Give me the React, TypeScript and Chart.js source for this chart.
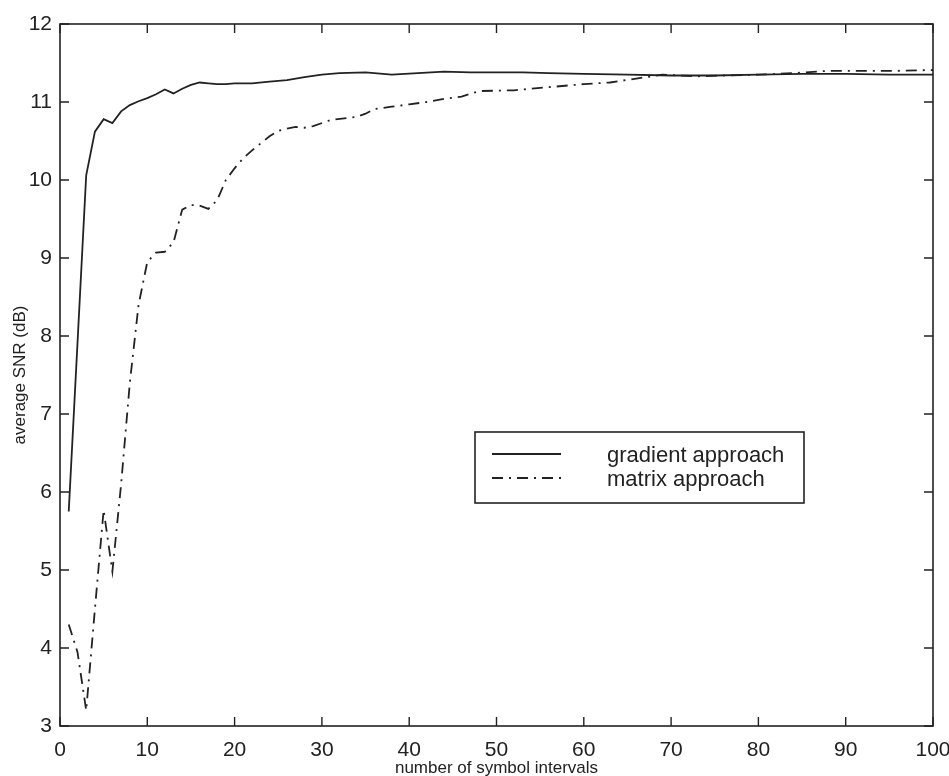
import React, { useEffect, useRef } from "react";
import { Chart, registerables } from "chart.js";

Chart.register(...registerables);

// ---- data ----
const xTickValues = [0, 10, 20, 30, 40, 50, 60, 70, 80, 90, 100];
const yTickValues = [3, 4, 5, 6, 7, 8, 9, 10, 11, 12];

const seriesLabels = ["gradient approach", "matrix approach"];
const xTitle = "number of symbol intervals";
const yTitle = "average SNR (dB)";

const gradientX = [1, 2, 3, 4, 5, 6, 7, 8, 9, 10, 11, 12, 13, 14, 15, 16, 17, 18, 19, 20, 22, 24, 26, 28, 30, 32, 35, 38, 41, 44, 47, 50, 53, 56, 60, 65, 70, 75, 80, 85, 90, 95, 100];
const gradientY = [5.75, 7.9, 10.06, 10.62, 10.78, 10.73, 10.88, 10.96, 11.01, 11.05, 11.1, 11.16, 11.11, 11.17, 11.22, 11.25, 11.24, 11.23, 11.23, 11.24, 11.24, 11.26, 11.28, 11.32, 11.35, 11.37, 11.38, 11.35, 11.37, 11.39, 11.38, 11.38, 11.38, 11.37, 11.36, 11.35, 11.34, 11.34, 11.35, 11.36, 11.36, 11.35, 11.35];

const matrixX = [1, 2, 3, 4, 5, 6, 7, 8, 9, 10, 11, 12, 13, 14, 15, 16, 17, 18, 19, 20, 21, 22, 23, 24, 25, 26, 27, 28, 29, 31, 34, 35, 36, 38, 40, 42, 44, 46, 48, 52, 56, 60, 63, 66, 69, 71, 73, 76, 80, 84, 88, 92, 96, 100];
const matrixY = [4.3, 3.95, 3.2, 4.5, 5.77, 4.98, 6.1, 7.4, 8.4, 8.95, 9.07, 9.08, 9.2, 9.62, 9.68, 9.67, 9.63, 9.74, 10.0, 10.15, 10.28, 10.38, 10.47, 10.56, 10.63, 10.66, 10.68, 10.67, 10.69, 10.77, 10.81, 10.85, 10.91, 10.94, 10.97, 11.0, 11.04, 11.07, 11.14, 11.15, 11.19, 11.23, 11.25, 11.3, 11.35, 11.34, 11.33, 11.34, 11.35, 11.37, 11.4, 11.4, 11.4, 11.41];

// ---- styling ----
const INK = "#222222";
const FONT = "'Liberation Sans', Arial, Helvetica, sans-serif";
const TICK_LEN = 9;
const LEGEND_BOX = { left: 475, top: 432, right: 804, bottom: 503 };

const frameAndTicks = {
  id: "frameAndTicks",
  afterDatasetsDraw(chart: any) {
    const { ctx, chartArea } = chart;
    const { left, right, top, bottom } = chartArea;
    const xs = chart.scales.x;
    const ys = chart.scales.y;
    ctx.save();
    ctx.strokeStyle = INK;
    ctx.lineWidth = 1.6;
    ctx.strokeRect(left, top, right - left, bottom - top);
    ctx.lineWidth = 1.4;
    ctx.beginPath();
    xs.ticks.forEach((t: any) => {
      const px = xs.getPixelForValue(t.value);
      ctx.moveTo(px, bottom);
      ctx.lineTo(px, bottom - TICK_LEN);
      ctx.moveTo(px, top);
      ctx.lineTo(px, top + TICK_LEN);
    });
    ys.ticks.forEach((t: any) => {
      const py = ys.getPixelForValue(t.value);
      ctx.moveTo(left, py);
      ctx.lineTo(left + TICK_LEN, py);
      ctx.moveTo(right, py);
      ctx.lineTo(right - TICK_LEN, py);
    });
    ctx.stroke();
    ctx.restore();
  },
};

const boxLegend = {
  id: "boxLegend",
  afterDraw(chart: any) {
    const { ctx } = chart;
    const b = LEGEND_BOX;
    ctx.save();
    ctx.fillStyle = "#ffffff";
    ctx.fillRect(b.left, b.top, b.right - b.left, b.bottom - b.top);
    ctx.strokeStyle = INK;
    ctx.lineWidth = 1.6;
    ctx.strokeRect(b.left, b.top, b.right - b.left, b.bottom - b.top);
    const rowY = [b.top + 22, b.top + 46];
    chart.data.datasets.forEach((ds: any, i: number) => {
      ctx.strokeStyle = ds.borderColor;
      ctx.lineWidth = ds.borderWidth;
      ctx.setLineDash(ds.borderDash || []);
      ctx.beginPath();
      ctx.moveTo(b.left + 17, rowY[i]);
      ctx.lineTo(b.left + 86, rowY[i]);
      ctx.stroke();
      ctx.setLineDash([]);
      ctx.fillStyle = INK;
      ctx.font = `22px ${FONT}`;
      ctx.textAlign = "left";
      ctx.textBaseline = "middle";
      ctx.fillText(ds.label, b.left + 132, rowY[i] + 2);
    });
    ctx.restore();
  },
};

export default function App() {
  const canvasRef = useRef<HTMLCanvasElement | null>(null);

  useEffect(() => {
    document.body.style.margin = "0";
    const canvas = canvasRef.current;
    if (!canvas) return;
    const chart = new Chart(canvas, {
      type: "line",
      data: {
        datasets: [
          {
            label: seriesLabels[0],
            data: gradientX.map((x, i) => ({ x, y: gradientY[i] })),
            borderColor: INK,
            borderWidth: 1.8,
            pointRadius: 0,
            tension: 0,
            fill: false,
          },
          {
            label: seriesLabels[1],
            data: matrixX.map((x, i) => ({ x, y: matrixY[i] })),
            borderColor: INK,
            borderWidth: 1.8,
            borderDash: [11, 6, 2, 6],
            pointRadius: 0,
            tension: 0,
            fill: false,
          },
        ],
      },
      options: {
        responsive: false,
        animation: false,
        devicePixelRatio: 1,
        layout: { padding: { top: 24, right: 16, left: 0, bottom: 0 } },
        plugins: { legend: { display: false }, tooltip: { enabled: false } },
        scales: {
          x: {
            type: "linear",
            min: 0,
            max: 100,
            afterBuildTicks: (s: any) => {
              s.ticks = xTickValues.map((v) => ({ value: v }));
            },
            grid: { display: false, drawTicks: false },
            border: { display: false },
            ticks: {
              color: INK,
              font: { family: FONT, size: 21 },
              padding: 12,
              maxRotation: 0,
              autoSkip: false,
            },
            title: {
              display: true,
              text: xTitle,
              color: INK,
              font: { family: FONT, size: 17 },
              padding: { top: 0, bottom: -3 },
            },
            afterFit: (s: any) => {
              s.height = 50;
              s.paddingLeft = 0;
              s.paddingRight = 0;
            },
          },
          y: {
            type: "linear",
            min: 3,
            max: 12,
            afterBuildTicks: (s: any) => {
              s.ticks = yTickValues.map((v) => ({ value: v }));
            },
            grid: { display: false, drawTicks: false },
            border: { display: false },
            ticks: {
              color: INK,
              font: { family: FONT, size: 21 },
              padding: 8,
              autoSkip: false,
            },
            title: {
              display: true,
              text: yTitle,
              color: INK,
              font: { family: FONT, size: 17 },
              padding: { top: 10, bottom: 0 },
            },
            afterFit: (s: any) => {
              s.width = 60;
              s.paddingTop = 0;
              s.paddingBottom = 0;
            },
          },
        },
      },
      plugins: [frameAndTicks, boxLegend],
    } as any);
    return () => chart.destroy();
  }, []);

  return (
    <div style={{ position: "fixed", left: 0, top: 0, width: 949, height: 776, background: "#fff" }}>
      <canvas ref={canvasRef} width={949} height={776} />
    </div>
  );
}
